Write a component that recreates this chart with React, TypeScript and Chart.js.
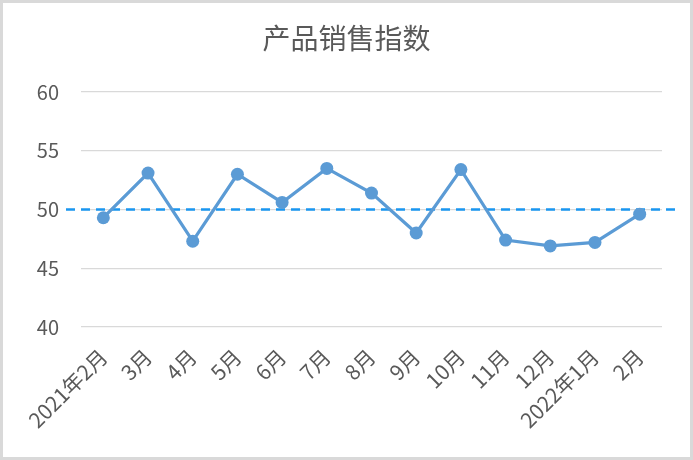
import React, { useEffect, useRef } from "react";
import { Chart, registerables } from "chart.js";

Chart.register(...registerables);

const TITLE = "产品销售指数";
const categories = ["2021年2月", "3月", "4月", "5月", "6月", "7月", "8月", "9月", "10月", "11月", "12月", "2022年1月", "2月"];
const salesIndex = [49.3, 53.1, 47.3, 53.0, 50.6, 53.5, 51.4, 48.0, 53.4, 47.4, 46.9, 47.2, 49.6];
const referenceValue = 50;
const yMin = 40;
const yMax = 60;
const yStep = 5;

const FONT = "'Noto Sans CJK SC', 'Noto Sans', sans-serif";
const TEXT = "#595959";

export default function App() {
  const ref = useRef<HTMLCanvasElement | null>(null);

  useEffect(() => {
    if (!ref.current) return;
    const refLine = {
      id: "refLine",
      beforeDatasetsDraw(chart: any) {
        const { ctx, chartArea, scales } = chart;
        const y = scales.y.getPixelForValue(referenceValue);
        ctx.save();
        ctx.strokeStyle = "#1a96f0";
        ctx.lineWidth = 2.5;
        ctx.setLineDash([9, 6]);
        ctx.beginPath();
        ctx.moveTo(chartArea.left - 15, y);
        ctx.lineTo(chartArea.right + 15, y);
        ctx.stroke();
        ctx.restore();
      },
    };
    const frame = {
      id: "frame",
      beforeDraw(chart: any) {
        const { ctx, width, height } = chart;
        ctx.save();
        ctx.fillStyle = "#ffffff";
        ctx.fillRect(0, 0, width, height);
        ctx.restore();
      },
      afterDraw(chart: any) {
        const { ctx, width, height } = chart;
        ctx.save();
        ctx.strokeStyle = "#d9d9d9";
        ctx.lineWidth = 3;
        ctx.strokeRect(1.5, 1.5, width - 3, height - 3);
        ctx.restore();
      },
    };
    const chart = new Chart(ref.current, {
      type: "line",
      data: {
        labels: categories,
        datasets: [
          {
            label: TITLE,
            data: salesIndex,
            borderColor: "#5b9bd5",
            backgroundColor: "#5b9bd5",
            borderWidth: 3.2,
            pointRadius: 6.5,
            pointBorderWidth: 0,
            pointBackgroundColor: "#5b9bd5",
            tension: 0,
          },
        ],
      },
      options: {
        responsive: false,
        animation: false,
        layout: { padding: { left: 0, right: 0, top: 0, bottom: 0 } },
        plugins: {
          legend: { display: false },
          tooltip: { enabled: false },
          title: {
            display: true,
            text: TITLE,
            color: TEXT,
            font: { family: FONT, size: 28, weight: "normal" },
            padding: { top: 22, bottom: 36.4 },
          },
        },
        scales: {
          x: {
            offset: true,
            grid: { display: false, drawTicks: false },
            border: { display: false },
            ticks: {
              color: TEXT,
              font: { family: FONT, size: 21 },
              minRotation: 45,
              maxRotation: 45,
              autoSkip: false,
              padding: 17,
            },
            afterFit(s: any) {
              s.height = 133;
            },
          },
          y: {
            min: yMin,
            max: yMax,
            grid: { color: "#d9d9d9", lineWidth: 1.3, drawTicks: false },
            border: { display: false },
            ticks: {
              stepSize: yStep,
              color: TEXT,
              font: { family: FONT, size: 20 },
              padding: 22,
            },
            afterFit(s: any) {
              s.width = 81;
            },
          },
          yRight: {
            position: "right",
            display: true,
            grid: { display: false, drawTicks: false },
            border: { display: false },
            ticks: { display: false },
            afterFit(s: any) {
              s.width = 31;
            },
          },
        },
      },
      plugins: [frame, refLine],
    } as any);
    return () => chart.destroy();
  }, []);

  return (
    <div style={{ position: "fixed", left: 0, top: 0, width: 693, height: 460 }}>
      <canvas ref={ref} width={693} height={460} />
    </div>
  );
}
